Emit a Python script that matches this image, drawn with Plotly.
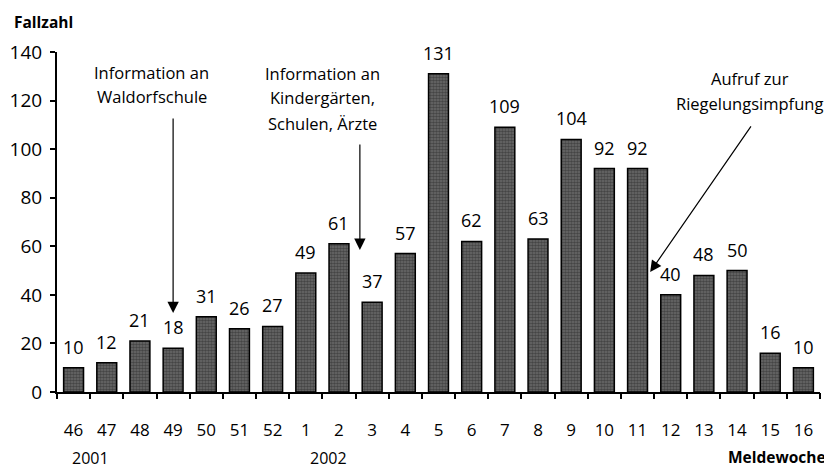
import plotly.graph_objects as go

weeks = ["46", "47", "48", "49", "50", "51", "52", "1", "2", "3", "4", "5",
         "6", "7", "8", "9", "10", "11", "12", "13", "14", "15", "16"]
cases = [10, 12, 21, 18, 31, 26, 27, 49, 61, 37, 57, 131,
         62, 109, 63, 104, 92, 92, 40, 48, 50, 16, 10]
y_ticks = [0, 20, 40, 60, 80, 100, 120, 140]
years = ["2001", "2002"]

FONT = "Open Sans"
idx = list(range(len(weeks)))

fig = go.Figure()
fig.add_trace(go.Bar(
    x=idx, y=cases, width=0.6,
    marker=dict(color="#505050", line=dict(color="black", width=1.5),
                pattern=dict(shape=".", fgcolor="#1e1e1e", bgcolor="#6c6c6c",
                             size=3, solidity=0.6)),
    cliponaxis=False, showlegend=False,
))

anns = []
for i, v in zip(idx, cases):
    anns.append(dict(x=i, y=v, text=str(v), showarrow=False, yanchor="bottom",
                     yshift=7, font=dict(size=18, color="black", family=FONT)))

def arrow(x, y, ax, ay):
    return dict(x=x, y=y, ax=ax, ay=ay, axref="x", ayref="y", xref="x", yref="y",
                text="", showarrow=True, arrowhead=2, arrowsize=1.9,
                arrowwidth=1.2, arrowcolor="black")

def cap(x, y, t):
    return dict(x=x, y=y, xref="paper", yref="paper", text=t, showarrow=False,
                yanchor="middle", xanchor="center",
                font=dict(size=16.5, color="black", family=FONT))

anns.append(arrow(3, 32.5, 3, 113.2))
anns.append(cap(0.1245, 0.941, "Information an"))
anns.append(cap(0.1245, 0.868, "Waldorfschule"))

anns.append(arrow(8.63, 58.5, 8.63, 102.5))
anns.append(cap(0.3486, 0.938, "Information an"))
anns.append(cap(0.3486, 0.865, "Kindergärten,"))
anns.append(cap(0.3486, 0.791, "Schulen, Ärzte"))

anns.append(arrow(17.38, 49.4, 20.45, 110))
anns.append(cap(0.908, 0.921, "Aufruf zur"))
anns.append(cap(0.908, 0.850, "Riegelungsimpfung"))

anns.append(dict(x=-0.059, y=1.088, xref="paper", yref="paper", text="<b>Fallzahl</b>",
                 showarrow=False, xanchor="left", yanchor="middle",
                 font=dict(size=15.5, color="black", family=FONT)))
anns.append(dict(x=1.0105, y=-0.191, xref="paper", yref="paper", text="<b>Meldewoche</b>",
                 showarrow=False, xanchor="right", yanchor="middle",
                 font=dict(size=15.5, color="black", family=FONT)))
for xpos, t in zip([0.5, 7.67], years):
    anns.append(dict(x=xpos, y=-0.194, xref="x", yref="paper", text=t,
                     showarrow=False, yanchor="middle",
                     font=dict(size=16, color="black", family=FONT)))

# page body has an 8px margin, so the figure is shifted; compensate
fig.update_layout(
    width=824, height=462,
    margin=dict(l=49, r=12, t=44, b=78),
    paper_bgcolor="white", plot_bgcolor="white",
    font=dict(family=FONT, color="black", size=17),
    annotations=anns,
    xaxis=dict(range=[-0.5, 22.5], tickvals=idx, ticktext=weeks,
               showline=True, linecolor="black", linewidth=2,
               ticks="", showgrid=False, zeroline=False, automargin=False,
               ticklabelstandoff=22, tickfont=dict(size=17)),
    xaxis2=dict(range=[-0.5, 22.5], overlaying="x", side="bottom",
                tickvals=[i - 0.5 for i in range(len(weeks) + 1)],
                ticks="outside", ticklen=6, tickwidth=2, tickcolor="black",
                showticklabels=False, showgrid=False, zeroline=False,
                showline=False, automargin=False, anchor="y"),
    yaxis=dict(range=[0, 140], tickvals=y_ticks, showline=True, linecolor="black",
               linewidth=2, ticks="outside", ticklen=5, tickwidth=2,
               tickcolor="black", showgrid=False, zeroline=False, automargin=False,
               ticklabelstandoff=4, tickfont=dict(size=19)),
)
fig.add_trace(go.Scatter(x=[0], y=[0], xaxis="x2", mode="markers",
                         marker=dict(opacity=0), showlegend=False, hoverinfo="skip"))

fig.write_html("out.html")
